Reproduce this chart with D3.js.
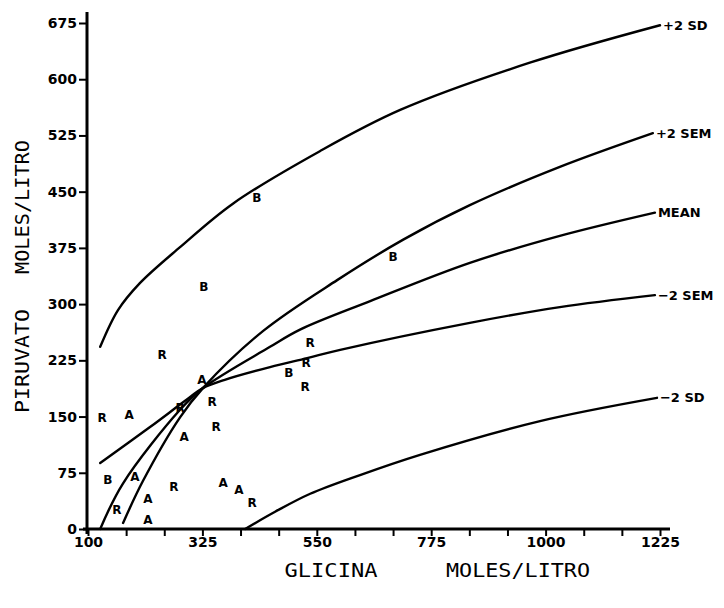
<!DOCTYPE html>
<html><head><meta charset="utf-8">
<script src="https://cdn.jsdelivr.net/npm/d3@7"></script>
<style>body{margin:0;background:#fff}svg{display:block}</style>
</head><body>
<svg id="c" width="724" height="608"></svg>
<script>
const xTickValues = [100,175,250,325,400,475,550,625,700,775,850,925,1000,1075,1150,1225];
const xTickLabels = [100,325,550,775,1000,1225];
const yTickLabels = [0,75,150,225,300,375,450,525,600,675];

const curveNames = ["+2 SD","+2 SEM","MEAN","\u22122 SEM","\u22122 SD"];
const plus2SD   = [[124,243],[159,292],[202,328],[281,376],[385,434],[556,504],[714,559],[969,622],[1225,672]];
const plus2SEM  = [[169,8],[208,64],[281,149],[326,188],[444,264],[590,332],[720,386],[851,432],[1028,483],[1211,528]];
const meanCurve = [[124,0],[169,61],[281,159],[326,188],[458,243],[517,266],[655,304],[851,355],[1028,391],[1215,422]];
const minus2SEM = [[124,88],[222,136],[291,171],[326,188],[369,199],[458,216],[531,228],[596,239],[851,275],[1028,296],[1215,312]];
const minus2SD  = [[409,0],[468,23],[537,47],[635,72],[753,99],[989,144],[1219,175]];
const curveSeries = [plus2SD, plus2SEM, meanCurve, minus2SEM, minus2SD];

const pointLetters = ["B","B","B","R","A","R","R","B","R","R","A","R","R","R","A","B","A","R","A","A","R","R","A","A"];
const pointX = [432,328,700,246,324,537,529,495,527,128,181,281,344,352,289,139,192,269,366,397,423,157,218,218];
const pointY = [442,323,363,232,199,248,222,208,190,148,152,162,170,136,123,65,69,56,61,52,35,25,12,40];

const svg = d3.select("#c");
const x = d3.scaleLinear().domain([100,1225]).range([88,660]);
const y = d3.scaleLinear().domain([0,675]).range([529,23]);

const labelFont = "DejaVu Sans, sans-serif";
const monoFont = "DejaVu Sans Mono, monospace";

// curves
const line = d3.line().x(d=>x(d[0])).y(d=>y(d[1])).curve(d3.curveCatmullRom.alpha(0.5));
svg.append("g").selectAll("path").data(curveSeries).join("path")
  .attr("d", line).attr("fill","none").attr("stroke","#000")
  .attr("stroke-width",2.4).attr("stroke-linecap","round");

// curve labels
svg.append("g").selectAll("text").data(curveSeries).join("text")
  .attr("x", d=>x(d[d.length-1][0])+3)
  .attr("y", d=>y(d[d.length-1][1]))
  .attr("dominant-baseline","central")
  .attr("font-family",labelFont).attr("font-weight","bold").attr("font-size",13)
  .text((d,i)=>curveNames[i]);

// points
svg.append("g").selectAll("text").data(pointLetters).join("text")
  .attr("x",(d,i)=>x(pointX[i])).attr("y",(d,i)=>y(pointY[i]))
  .attr("text-anchor","middle").attr("dominant-baseline","central")
  .attr("font-family",labelFont).attr("font-weight","bold").attr("font-size",12)
  .text(d=>d);

// axes
const xAxis = d3.axisBottom(x).tickValues(xTickValues).tickSize(7).tickSizeOuter(0)
  .tickFormat(d=>xTickLabels.includes(d)?d:"");
const gx = svg.append("g").attr("transform","translate(0,529)").call(xAxis);
gx.select(".domain").remove();
gx.selectAll(".tick line").attr("stroke","#000").attr("stroke-width",2);
gx.selectAll(".tick text").attr("font-family",labelFont).attr("font-weight","bold")
  .attr("font-size",14).attr("fill","#000").attr("dy","0.55em");
svg.append("line").attr("x1",83).attr("x2",670).attr("y1",529).attr("y2",529)
  .attr("stroke","#000").attr("stroke-width",3);

const yAxis = d3.axisLeft(y).tickValues(yTickLabels).tickSize(8).tickSizeOuter(0).tickPadding(2);
const gy = svg.append("g").attr("transform","translate(87,0)").call(yAxis);
gy.select(".domain").remove();
gy.selectAll(".tick line").attr("stroke","#000").attr("stroke-width",2);
gy.selectAll(".tick text").attr("font-family",labelFont).attr("font-weight","bold")
  .attr("font-size",14).attr("fill","#000");
svg.append("line").attr("x1",87).attr("x2",87).attr("y1",12).attr("y2",534)
  .attr("stroke","#000").attr("stroke-width",3);

// axis titles
svg.append("text").attr("x",331).attr("y",570).attr("text-anchor","middle")
  .attr("dominant-baseline","central").attr("font-family",monoFont).attr("font-size",19)
  .attr("textLength",93).attr("lengthAdjust","spacingAndGlyphs").text("GLICINA");
svg.append("text").attr("x",518).attr("y",570).attr("text-anchor","middle")
  .attr("dominant-baseline","central").attr("font-family",monoFont).attr("font-size",19)
  .attr("textLength",144).attr("lengthAdjust","spacingAndGlyphs").text("MOLES/LITRO");
svg.append("text").attr("transform","translate(22,361) rotate(-90)").attr("text-anchor","middle")
  .attr("dominant-baseline","central").attr("font-family",monoFont).attr("font-size",19)
  .attr("textLength",104).attr("lengthAdjust","spacingAndGlyphs").text("PIRUVATO");
svg.append("text").attr("transform","translate(22,207) rotate(-90)").attr("text-anchor","middle")
  .attr("dominant-baseline","central").attr("font-family",monoFont).attr("font-size",19)
  .attr("textLength",134).attr("lengthAdjust","spacingAndGlyphs").text("MOLES/LITRO");
</script>
</body></html>
